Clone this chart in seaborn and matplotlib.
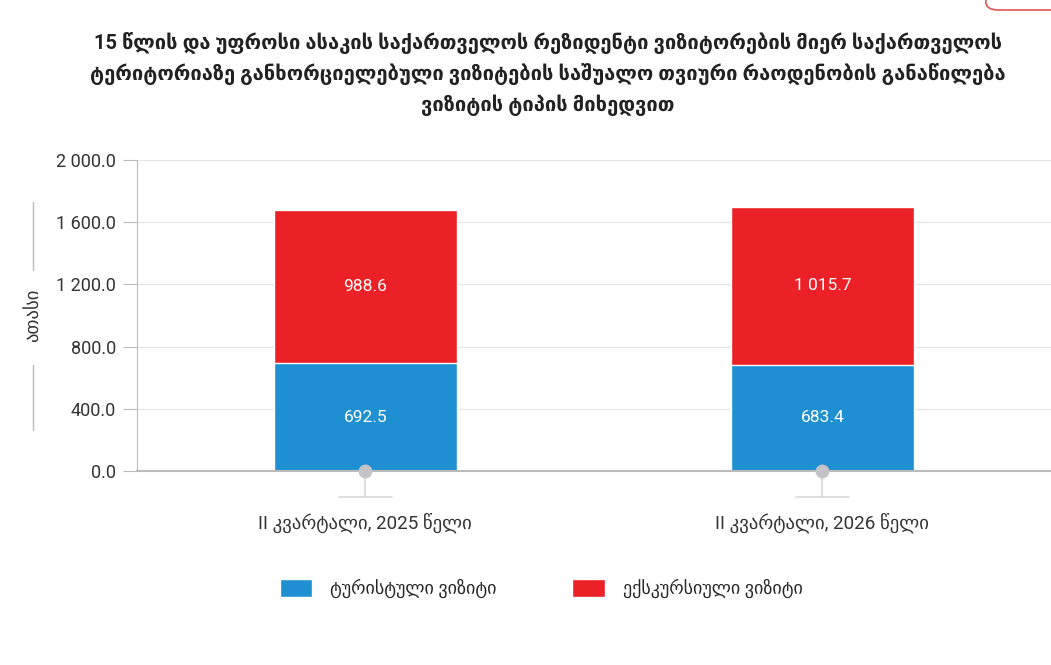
import matplotlib
matplotlib.use("Agg")
import matplotlib.pyplot as plt
from matplotlib.patches import Patch, FancyBboxPatch
import matplotlib.transforms as mtransforms
import pandas as pd
import seaborn as sns

# data
periods = ["II კვარტალი, 2025 წელი", "II კვარტალი, 2026 წელი"]
tourist = [692.5, 683.4]
excursion = [988.6, 1015.7]
yticks = [0, 400, 800, 1200, 1600, 2000]

title = ("15 წლის და უფროსი ასაკის საქართველოს რეზიდენტი ვიზიტორების მიერ საქართველოს\n"
         "ტერიტორიაზე განხორციელებული ვიზიტების საშუალო თვიური რაოდენობის განაწილება\n"
         "ვიზიტის ტიპის მიხედვით")
ylabel = "ათასი"
series_names = ["ტურისტული ვიზიტი", "ექსკურსიული ვიზიტი"]

BLUE = "#1e90d2"
RED = "#ec2127"
GRID = "#e6e6e6"

sns.set_style("white")
plt.rcParams["font.family"] = ["Roboto", "DejaVu Sans"]

df = pd.DataFrame({"period": periods, "tourist": tourist, "excursion": excursion})
df["total"] = df["tourist"] + df["excursion"]


def fmt(v):
    return f"{v:,.1f}".replace(",", " ")


fig = plt.figure(figsize=(10.51, 6.65), dpi=100)
ax = fig.add_axes([0.130, 0.2917, 0.870, 0.4677])

# stacked bars: total in red, tourist part drawn over it in blue
sns.barplot(data=df, x="period", y="total", color=RED, width=0.4, saturation=1, ax=ax, zorder=2)
sns.barplot(data=df, x="period", y="tourist", color=BLUE, width=0.4, saturation=1, ax=ax, zorder=3)

for i, row in df.iterrows():
    ax.text(i, row["tourist"] / 2, fmt(row["tourist"]), ha="center", va="center",
            color="white", fontsize=12.5, zorder=5)
    ax.text(i, row["tourist"] + row["excursion"] / 2, fmt(row["excursion"]), ha="center",
            va="center", color="white", fontsize=12.5, zorder=5)

ax.set_xlim(-0.5, 1.5)
ax.set_ylim(0, 2000)
ax.set_yticks(yticks)
ax.set_yticklabels([fmt(v) for v in yticks], fontsize=13, color="#333333")
ax.yaxis.grid(True, color=GRID, linewidth=1, zorder=0)
ax.set_axisbelow(True)
ax.tick_params(axis="y", length=10, color="#bbbbbb", pad=5, left=True)
ax.tick_params(axis="x", length=0, pad=30, labelsize=13.5, labelcolor="#333333")
ax.set_xlabel("")
ax.set_ylabel("")
for s in ["top", "right"]:
    ax.spines[s].set_visible(False)
ax.spines["left"].set_color("#bbbbbb")
ax.spines["bottom"].set_color("#bbbbbb")
ax.spines["bottom"].set_linewidth(1.5)
ax.spines["bottom"].set_zorder(4)

# category pointers under the axis
trans = mtransforms.blended_transform_factory(ax.transData, ax.transAxes)
for i in range(len(periods)):
    ax.plot([i, i], [0, -0.085], transform=trans, color="#d8d8d8", lw=1.2, clip_on=False, zorder=4)
    ax.plot([i - 0.058, i + 0.058], [-0.085, -0.085], transform=trans, color="#d8d8d8", lw=1.2,
            clip_on=False, zorder=4)
    ax.plot([i], [0], transform=trans, marker="o", ms=9, color="#c4c4c8", clip_on=False, zorder=6)

# y label with side lines
fig.text(0.0314, 0.2917 + 0.4677 * 0.5, ylabel, rotation=90, ha="center", va="center",
         fontsize=13.5, color="#333333")
for y0, y1 in [(0.646, 0.865), (0.132, 0.341)]:
    fig.add_artist(plt.Line2D([0.0314, 0.0314], [0.2917 + 0.4677 * y0, 0.2917 + 0.4677 * y1],
                              color="#bbbbbb", lw=1))

fig.text(0.521, 0.952, title, ha="center", va="top", fontsize=14.5, fontweight="bold",
         color="#222222", linespacing=1.55)

handles = [Patch(facecolor=BLUE, label=series_names[0]), Patch(facecolor=RED, label=series_names[1])]
fig.legend(handles=handles, loc="center", bbox_to_anchor=(0.515, 0.115), ncol=2, frameon=False,
           fontsize=13, handlelength=1.8, handleheight=1.1, columnspacing=4.2, handletextpad=1.0)

# partial button outline in the top-right corner
fig.add_artist(FancyBboxPatch((0.938, 0.985), 0.1, 0.05, boxstyle="round,pad=0,rounding_size=0.012",
                              transform=fig.transFigure, facecolor="none", edgecolor="#e05555", lw=1.2))

fig.savefig("out.png", dpi=100)
